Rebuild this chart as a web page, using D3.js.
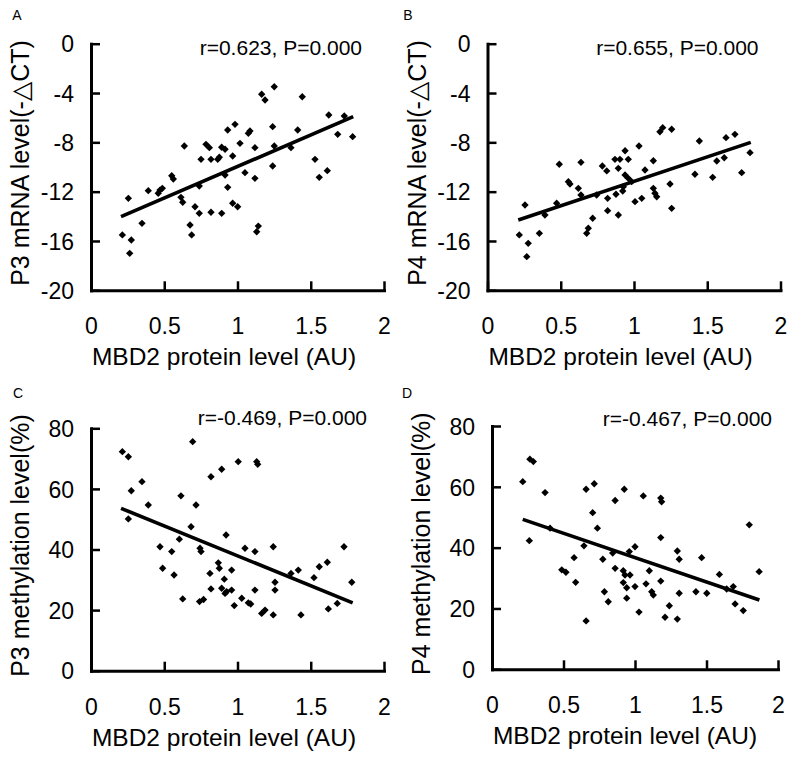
<!DOCTYPE html>
<html><head><meta charset="utf-8">
<script src="https://cdn.jsdelivr.net/npm/d3@7"></script>
<style>
body{margin:0;background:#fff}
svg{display:block}
text{font-family:"Liberation Sans",Arial,"DejaVu Sans",sans-serif;fill:#000}
</style>
</head><body>
<svg id="chart" width="800" height="758"></svg>
<script>
// ---- data ----
const xTicks = [0, 0.5, 1, 1.5, 2];
const mrnaTicks = [0, -4, -8, -12, -16, -20];
const methTicks = [0, 20, 40, 60, 80];

const aX = [0.214,0.255,0.275,0.264,0.348,0.391,0.459,0.471,0.487,0.551,
0.562,0.637,0.614,0.626,0.676,0.687,0.710,0.739,0.739,0.751,
0.785,0.808,0.819,0.819,0.865,0.876,0.892,0.915,0.892,0.915,
0.933,0.933,0.983,0.967,0.967,1.001,1.017,1.074,1.085,1.051,
1.119,1.119,1.142,1.131,1.165,1.188,1.251,1.240,1.251,1.240,
1.365,1.411,1.442,1.529,1.558,1.613,1.623,1.684,1.729,1.786];
const aY = [-15.51,-12.54,-15.92,-17.00,-14.57,-11.92,-12.13,-11.87,-11.73,-10.71,
-10.97,-8.30,-12.46,-12.86,-14.70,-15.51,-13.22,-13.76,-11.54,-9.38,
-8.16,-8.43,-9.38,-13.67,-9.38,-9.21,-8.40,-8.56,-13.76,-10.65,
-11.65,-7.00,-6.54,-9.11,-12.94,-13.22,-8.08,-7.27,-7.08,-10.46,
-8.43,-10.92,-14.79,-15.25,-4.10,-4.57,-3.49,-6.73,-8.30,-9.92,
-8.43,-7.00,-4.30,-9.38,-10.84,-10.30,-5.78,-7.35,-5.86,-7.54];

const bX = [0.217,0.256,0.278,0.268,0.354,0.392,0.472,0.490,0.552,0.563,
0.620,0.638,0.638,0.677,0.688,0.718,0.745,0.784,0.814,0.820,
0.820,0.870,0.904,0.939,0.893,0.877,0.893,0.923,0.939,0.961,
0.961,0.984,0.927,1.007,1.053,1.034,1.075,1.132,1.132,1.143,
1.155,1.177,1.196,1.257,1.246,1.257,1.416,1.446,1.537,1.565,
1.616,1.628,1.689,1.735,1.792];
const bY = [-15.51,-13.08,-16.19,-17.27,-15.38,-13.89,-12.94,-9.78,-11.19,-11.38,
-11.73,-9.62,-12.27,-15.38,-14.97,-14.16,-12.27,-9.92,-10.32,-12.54,
-13.54,-9.38,-9.38,-8.68,-10.11,-12.21,-13.89,-11.95,-10.65,-9.38,
-10.92,-11.19,-11.60,-12.81,-12.54,-8.30,-10.24,-9.49,-11.73,-12.13,
-12.41,-7.14,-6.81,-6.94,-11.38,-13.35,-10.59,-7.89,-10.84,-9.51,
-9.25,-7.62,-7.35,-10.46,-8.84];

const cX = [0.214,0.255,0.275,0.348,0.255,0.391,0.694,0.614,0.717,0.683,
0.603,0.471,0.551,0.489,0.567,0.626,0.744,0.751,0.741,0.768,
0.819,0.892,1.005,0.922,0.869,0.876,0.812,0.960,0.910,0.819,
0.892,0.915,0.926,0.960,0.978,1.131,1.138,1.051,1.119,1.244,
1.029,1.074,1.090,1.119,1.165,1.188,1.244,1.256,1.256,1.365,
1.415,1.433,1.522,1.558,1.613,1.620,1.681,1.727,1.780];
const cY = [72.3,70.6,59.4,62.4,50.1,54.7,75.6,57.7,54.7,47.5,
43.4,40.9,39.3,33.8,31.6,23.7,40.4,39.3,22.8,23.5,
64.0,66.5,69.0,44.8,35.6,33.8,32.1,33.2,30.2,27.0,
27.2,25.5,26.1,26.6,21.5,69.0,68.1,40.4,39.3,40.9,
23.9,22.4,22.0,26.6,18.9,20.0,18.4,29.2,26.6,32.1,
33.2,18.4,30.7,34.3,35.8,20.4,22.2,40.9,29.2];

const dX = [0.215,0.265,0.289,0.261,0.371,0.406,0.658,0.715,0.704,0.737,
0.643,0.574,0.488,0.517,0.585,0.658,0.775,0.786,0.813,0.861,
0.925,0.844,0.861,0.918,0.930,0.918,0.942,0.942,0.960,0.965,
1.000,1.000,1.058,1.100,1.077,1.117,1.128,1.028,1.180,1.186,
1.180,1.180,1.240,1.210,1.296,1.309,1.309,1.296,1.426,1.466,
1.502,1.590,1.641,1.687,1.700,1.757,1.799,1.868];
const dY = [61.7,69.1,68.3,42.3,58.1,46.4,59.2,61.0,51.5,46.4,
40.6,36.7,32.7,31.9,28.6,15.9,36.2,25.5,22.2,55.5,
59.2,38.2,33.2,32.4,31.0,28.5,26.8,23.4,38.7,31.0,
27.2,40.3,57.0,32.4,28.1,25.5,24.4,18.8,56.3,55.1,
43.3,29.0,20.9,17.1,38.9,36.2,25.0,16.5,25.5,36.7,
25.0,31.2,26.4,27.2,21.5,19.3,47.5,32.1];

const aFitX = [0.205, 1.790], aFitY = [-14.03, -5.92];
const bFitX = [0.210, 1.797], bFitY = [-14.30, -8.00];
const cFitX = [0.205, 1.786], cFitY = [53.6, 22.4];
const dFitX = [0.215, 1.870], dFitY = [49.3, 22.8];

const xTitle = "MBD2 protein level (AU)";

// ---- layout ----
const panels = [
  {letter:"A", xs:aX, ys:aY, fx:aFitX, fy:aFitY, yTicks:mrnaTicks, yDom:[-20,0],
   yTitle:"P3 mRNA level(-△CT)", stat:"r=0.623, P=0.000",
   x0:91, x1:384, yTop:43.7, yBot:290.3, statDx:271, statY:55, lx:17, ly:20},
  {letter:"B", xs:bX, ys:bY, fx:bFitX, fy:bFitY, yTicks:mrnaTicks, yDom:[-20,0],
   yTitle:"P4 mRNA level(-△CT)", stat:"r=0.655, P=0.000",
   x0:487.5, x1:780.5, yTop:43.7, yBot:290.3, statDx:271, statY:55, lx:408, ly:20},
  {letter:"C", xs:cX, ys:cY, fx:cFitX, fy:cFitY, yTicks:methTicks, yDom:[0,80],
   yTitle:"P3 methylation level(%)", stat:"r=-0.469, P=0.000",
   x0:91, x1:384, yTop:428.3, yBot:670.7, statDx:276, statY:425, lx:18, ly:398},
  {letter:"D", xs:dX, ys:dY, fx:dFitX, fy:dFitY, yTicks:methTicks, yDom:[0,80],
   yTitle:"P4 methylation level(%)", stat:"r=-0.467, P=0.000",
   x0:492, x1:778, yTop:426, yBot:669.3, statDx:280, statY:426, lx:407, ly:398}
];

const svg = d3.select("#chart");
const diamond = d3.symbol().type(d3.symbolSquare).size(27);

panels.forEach(p => {
  const g = svg.append("g");
  const x = d3.scaleLinear().domain([0, 2]).range([p.x0, p.x1]);
  const y = d3.scaleLinear().domain(p.yDom).range([p.yBot, p.yTop]);

  const gx = g.append("g").attr("transform", `translate(0,${p.yBot})`)
    .call(d3.axisBottom(x).tickValues(xTicks).tickSizeInner(-9).tickSizeOuter(0)
      .tickFormat(d => String(d)));
  const gy = g.append("g").attr("transform", `translate(${p.x0},0)`)
    .call(d3.axisLeft(y).tickValues(p.yTicks).tickSizeInner(-9).tickSizeOuter(0)
      .tickFormat(d => String(d)));

  [gx, gy].forEach(a => {
    a.select(".domain").attr("stroke", "#000").attr("stroke-width", 3)
      .attr("stroke-linecap", "square");
    a.selectAll(".tick line").attr("stroke", "#000").attr("stroke-width", 2.5);
    a.selectAll("text").attr("font-size", 23).attr("fill", "#000")
      .style("font-family", '"Liberation Sans",Arial,sans-serif');
  });
  gx.selectAll(".tick text").attr("y", 44).attr("dy", null);
  gy.selectAll(".tick text").attr("x", -17).attr("dy", "0.36em");

  g.append("g").selectAll("path").data(p.xs.map((v, i) => [v, p.ys[i]]))
    .join("path")
    .attr("d", diamond)
    .attr("transform", d => `translate(${x(d[0])},${y(d[1])}) rotate(45)`)
    .attr("fill", "#000");

  g.append("line")
    .attr("x1", x(p.fx[0])).attr("y1", y(p.fy[0]))
    .attr("x2", x(p.fx[1])).attr("y2", y(p.fy[1]))
    .attr("stroke", "#000").attr("stroke-width", 3.6);

  g.append("text").attr("x", p.x0 + p.statDx).attr("y", p.statY)
    .attr("text-anchor", "end").attr("font-size", 21).text(p.stat);

  g.append("text").attr("x", p.x0 + 133).attr("y", p.yBot + 75)
    .attr("text-anchor", "middle").attr("font-size", 24.5).text(xTitle);
  const mid = (p.yTop + p.yBot) / 2 - 4;
  g.append("text").attr("transform", `translate(${p.x0 - 62},${mid}) rotate(-90)`)
    .attr("text-anchor", "middle").attr("font-size", 25).text(p.yTitle);

  g.append("text").attr("x", p.lx).attr("y", p.ly).attr("text-anchor", "middle")
    .attr("font-size", 14).text(p.letter);
});
</script>
</body></html>
